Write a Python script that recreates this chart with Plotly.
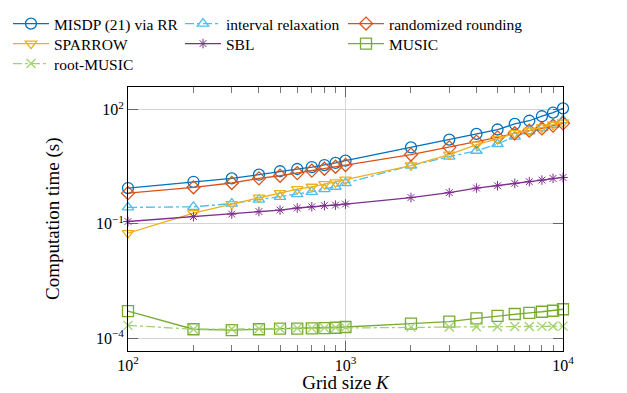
import plotly.graph_objects as go

grid_size = [100, 200, 300, 400, 500, 600, 700, 800, 900, 1000,
             2000, 3000, 4000, 5000, 6000, 7000, 8000, 9000, 10000]

misdp_rr = [0.87, 1.27, 1.56, 1.95, 2.4, 2.75, 3.1, 3.5, 4.0, 4.55,
            10.2, 16.3, 23, 30, 42, 51, 67, 83, 108]
interval_relax = [0.27, 0.28, 0.34, 0.43, 0.51, 0.6, 0.69, 0.82, 0.94, 1.17,
                  3.4, 5.8, 8.3, 12.5, 19.5, 27, 33, 40, 53]
rand_rounding = [0.64, 0.91, 1.18, 1.56, 1.83, 2.15, 2.5, 2.8, 3.16, 3.5,
                 6.6, 10.2, 14.4, 18.7, 24, 28, 32, 38, 43.6]
sparrow = [0.057, 0.19, 0.33, 0.49, 0.64, 0.82, 0.94, 1.1, 1.22, 1.44,
           3.4, 6.6, 12, 17, 24, 28, 34, 40, 46]
sbl = [0.115, 0.155, 0.18, 0.21, 0.23, 0.26, 0.28, 0.30, 0.31, 0.33,
       0.49, 0.66, 0.87, 1.0, 1.15, 1.28, 1.41, 1.56, 1.65]
music = [5.1e-4, 1.7e-4, 1.62e-4, 1.7e-4, 1.76e-4, 1.76e-4, 1.8e-4, 1.83e-4, 1.86e-4, 1.95e-4,
         2.38e-4, 2.7e-4, 3.3e-4, 3.8e-4, 4.28e-4, 4.6e-4, 4.9e-4, 5.2e-4, 5.7e-4]
root_music = [2.15e-4, 1.7e-4, 1.72e-4, 1.75e-4, 1.78e-4, 1.8e-4, 1.82e-4, 1.85e-4, 1.88e-4, 1.9e-4,
              1.93e-4, 1.95e-4, 1.97e-4, 1.98e-4, 2.0e-4, 2.0e-4, 2.02e-4, 2.03e-4, 2.05e-4]

# (name, values, color, symbol, dash, size, marker line width)
series = [
    ("MISDP (21) via RR", misdp_rr, "#0072BD", "circle-open", "solid", 11, 1.3),
    ("interval relaxation", interval_relax, "#4DBEEE", "triangle-up-open", "dashdot", 10, 1.3),
    ("randomized rounding", rand_rounding, "#D95319", "diamond-open", "solid", 10, 1.3),
    ("SPARROW", sparrow, "#EDB120", "triangle-down-open", "solid", 10, 1.3),
    ("SBL", sbl, "#7E2F8E", "asterisk-open", "solid", 8, 1.0),
    ("MUSIC", music, "#77AC30", "square-open", "solid", 11, 1.3),
    ("root-MUSIC", root_music, "#A2D26A", "x-thin-open", "dashdot", 9, 1.3),
]

# legend grid: 3 columns, filled row by row
col_px = [8, 180, 343]
row_top_px = [7.0, 27.0, 47.0]

font_family = "Liberation Serif"
fig = go.Figure()
legend_layouts = {}
for i, (name, vals, color, sym, dash, size, mlw) in enumerate(series):
    leg = "legend" if i == 0 else f"legend{i + 1}"
    fig.add_trace(go.Scatter(
        x=grid_size, y=vals, name=name, mode="lines+markers",
        line=dict(color=color, width=1.3, dash=dash),
        marker=dict(symbol=sym, size=size, color=color, line=dict(color=color, width=mlw)),
        cliponaxis=False, legend=leg,
    ))
    r, c = divmod(i, 3)
    legend_layouts[leg] = dict(
        orientation="v", xref="container", yref="container",
        x=col_px[c] / 627, y=1 - row_top_px[r] / 393, xanchor="left", yanchor="top",
        itemwidth=36, tracegroupgap=0,
        font=dict(family=font_family, size=15.5, color="black"),
        bgcolor="rgba(0,0,0,0)",
    )

fig.update_layout(
    width=627, height=393,
    margin=dict(l=128, r=64, t=87, b=42, autoexpand=False),
    paper_bgcolor="white", plot_bgcolor="white",
    font=dict(family=font_family, size=16, color="black"),
    showlegend=True,
    **legend_layouts,
    xaxis=dict(
        type="log", range=[2, 4],
        tickvals=[100, 1000, 10000],
        ticktext=["10<sup>2</sup>", "10<sup>3</sup>", "10<sup>4</sup>"],
        ticks="inside", ticklen=10, tickcolor="#666",
        showline=True, linecolor="black", linewidth=1, mirror="ticks",
        showgrid=True, gridcolor="#d4d4d4", gridwidth=1,
        zeroline=False,
        tickfont=dict(family=font_family, size=16),
        minor=dict(tickvals=[200, 300, 400, 500, 600, 700, 800, 900,
                             2000, 3000, 4000, 5000, 6000, 7000, 8000, 9000],
                   ticks="inside", ticklen=6, tickcolor="#777", showgrid=False),
        title=dict(text="Grid size <i>K</i>", font=dict(family=font_family, size=19), standoff=2),
    ),
    yaxis=dict(
        type="log", range=[-4.341, 2.594],
        tickvals=[1e-4, 1e-1, 1e2],
        ticktext=["10<sup>−4</sup>", "10<sup>−1</sup>", "10<sup>2</sup>"],
        ticks="inside", ticklen=10, tickcolor="#666",
        showline=True, linecolor="black", linewidth=1, mirror="ticks",
        showgrid=True, gridcolor="#d4d4d4", gridwidth=1,
        zeroline=False,
        tickfont=dict(family=font_family, size=16),
    ),
    annotations=[dict(
        text="Computation time (s)", textangle=-90,
        xref="paper", yref="paper", x=(53 - 128) / 435, y=0.5,
        xanchor="center", yanchor="middle", showarrow=False,
        font=dict(family=font_family, size=19, color="black"),
    )],
)

fig.write_html("out.html")
